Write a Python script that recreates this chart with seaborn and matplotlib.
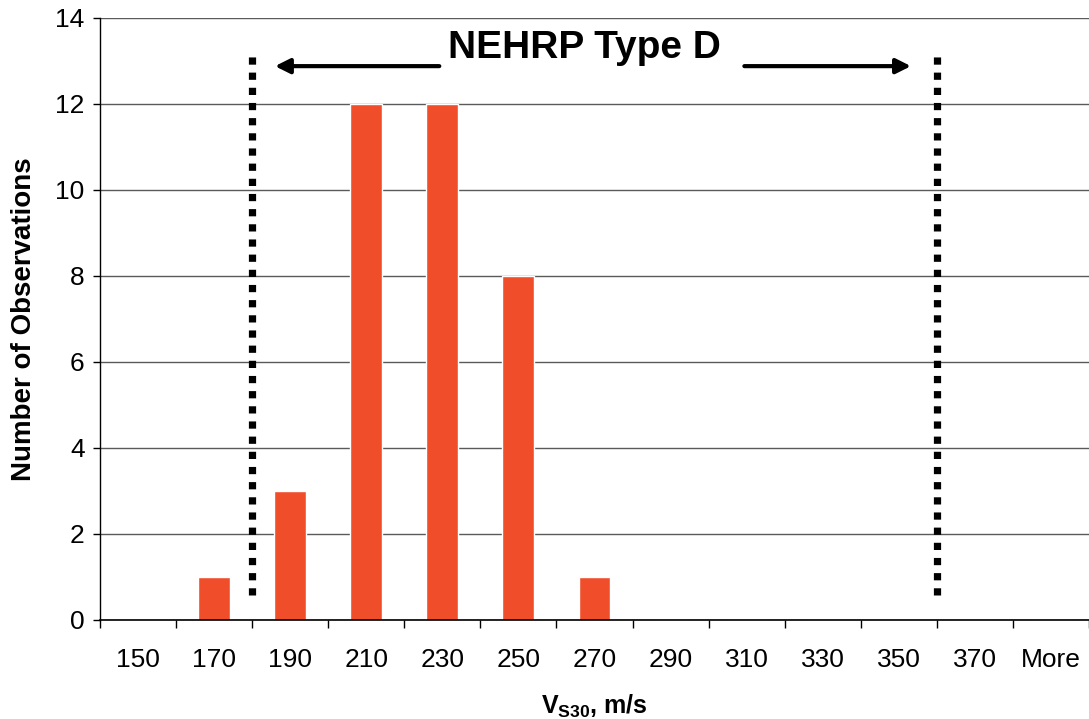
"""Histogram of Vs30 observations with NEHRP Type D range."""
import numpy as np
import pandas as pd
import seaborn as sns
import matplotlib.pyplot as plt
from matplotlib.ticker import FixedLocator

# Data
bins = ["150", "170", "190", "210", "230", "250", "270",
        "290", "310", "330", "350", "370", "More"]
counts = [0, 1, 3, 12, 12, 8, 1, 0, 0, 0, 0, 0, 0]

# NEHRP type D limits (180 and 360 m/s) sit between the bin labels
type_d_lo = 1.5
type_d_hi = 10.5

df = pd.DataFrame({"Vs30": bins, "Count": counts})

sns.set_style("white")
plt.rcParams["font.family"] = ["Liberation Sans", "DejaVu Sans"]
plt.rcParams["text.color"] = "black"
plt.rcParams["axes.labelcolor"] = "black"
plt.rcParams["xtick.color"] = "black"
plt.rcParams["ytick.color"] = "black"
plt.rcParams["mathtext.fontset"] = "custom"
plt.rcParams["mathtext.rm"] = "Liberation Sans"
plt.rcParams["mathtext.bf"] = "Liberation Sans:bold"

fig = plt.figure(figsize=(10.89, 7.19), dpi=100)
ax = fig.add_axes([0.0918, 0.1377, 0.9082, 0.8373])

sns.barplot(data=df, x="Vs30", y="Count", order=bins, color="#F04E2A",
            saturation=1, width=0.42, ax=ax)

ax.set_ylim(0, 14)
ax.set_xlim(-0.5, len(bins) - 0.5)
ax.set_yticks(np.arange(0, 15, 2))
ax.yaxis.grid(True, color="#5a5a5a", linewidth=1.0)
ax.set_axisbelow(True)

for s in ["top", "right"]:
    ax.spines[s].set_visible(False)
ax.spines["left"].set_color("black")
ax.spines["bottom"].set_color("black")
ax.spines["left"].set_linewidth(1.0)
ax.spines["bottom"].set_linewidth(1.2)

# tick marks at bin boundaries, labels at bin centres
ax.xaxis.set_minor_locator(FixedLocator(np.arange(-0.5, len(bins), 1.0)))
ax.tick_params(axis="x", which="major", length=0, pad=20, labelsize=19)
ax.tick_params(axis="x", which="minor", length=6, width=1, color="black",
               direction="out", bottom=True)
ax.tick_params(axis="y", which="major", length=5, width=1, color="black",
               direction="out", left=True, labelsize=19, pad=6)

ax.set_xlabel(r"$\mathbf{V_{S30}}$, m/s", fontsize=18, fontweight="bold",
              labelpad=15)
ax.set_ylabel("Number of Observations", fontsize=20, fontweight="bold",
              labelpad=13)

# NEHRP type D boundaries
for xv in [type_d_lo, type_d_hi]:
    ax.plot([xv, xv], [0.58, 13.2], color="black", linewidth=5.2,
            linestyle=(0, (1, 1.1)), dash_capstyle="butt", clip_on=False)

ax.annotate("", xy=(1.80, 12.88), xytext=(3.96, 12.88),
            arrowprops=dict(arrowstyle="-|>", color="black", lw=3,
                            mutation_scale=22, shrinkA=0, shrinkB=0))
ax.annotate("", xy=(10.16, 12.88), xytext=(7.97, 12.88),
            arrowprops=dict(arrowstyle="-|>", color="black", lw=3,
                            mutation_scale=22, shrinkA=0, shrinkB=0))
ax.text(5.87, 13.3, "NEHRP Type D", ha="center", va="center",
        fontsize=28, fontweight="bold")

plt.savefig("out.png", dpi=100, facecolor="white")
plt.close()
